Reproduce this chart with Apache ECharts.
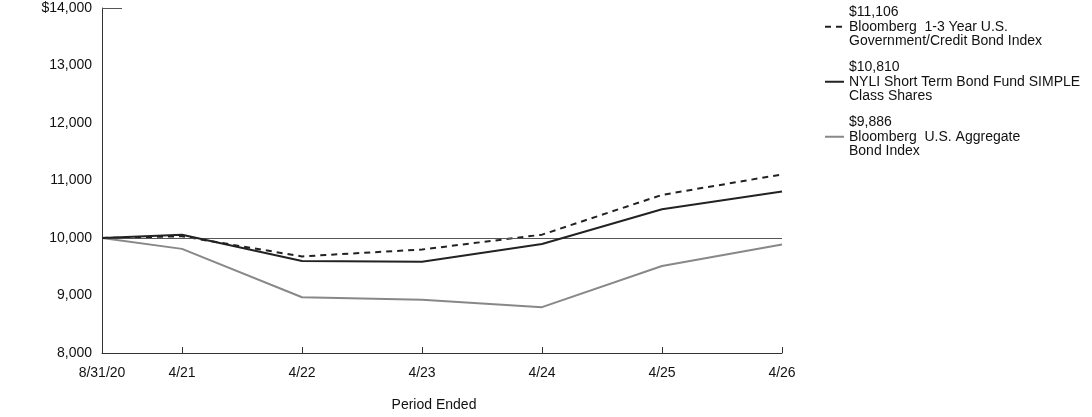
<!DOCTYPE html>
<html>
<head>
<meta charset="utf-8">
<script src="https://cdn.jsdelivr.net/npm/echarts@6/dist/echarts.min.js"></script>
<style>
  html, body { margin: 0; padding: 0; background: #fff; }
  #chart { width: 1092px; height: 417px; }
</style>
</head>
<body>
<div id="chart"></div>
<script>
const periods = ["8/31/20", "4/21", "4/22", "4/23", "4/24", "4/25", "4/26"];
const monthsFromStart = [0, 8, 20, 32, 44, 56, 68];
const yTicks = [8000, 9000, 10000, 11000, 12000, 13000, 14000];

const shortGovCredit = [10000, 10030, 9680, 9800, 10058, 10750, 11106];
const fundSimple = [10000, 10058, 9599, 9588, 9897, 10499, 10810];
const aggregate = [10000, 9811, 8969, 8926, 8797, 9513, 9886];

const names = [
	"Bloomberg  1-3 Year U.S. Government/Credit Bond Index",
	"NYLI Short Term Bond Fund SIMPLE Class Shares",
	"Bloomberg  U.S. Aggregate Bond Index"
];
const legendText = {
	[names[0]]: "$11,106\nBloomberg  1-3 Year U.S.\nGovernment/Credit Bond Index",
	[names[1]]: "$10,810\nNYLI Short Term Bond Fund SIMPLE\nClass Shares",
	[names[2]]: "$9,886\nBloomberg  U.S. Aggregate\nBond Index"
};

// one category per month, labels only where a period ends
const months = [];
for (let m = 0; m <= monthsFromStart[monthsFromStart.length - 1]; m++) {
	const idx = monthsFromStart.indexOf(m);
	months.push(idx >= 0 ? periods[idx] : "");
}
const isPeriod = (i) => monthsFromStart.indexOf(i) >= 0;
const toPoints = (vals) => vals.map((v, i) => [monthsFromStart[i], v]);

const font = "Arial, 'Liberation Sans', sans-serif";
const chart = echarts.init(document.getElementById("chart"));

const option = {
	animation: false,
	textStyle: { fontFamily: font },
	grid: { left: 102, right: 310, top: 8, bottom: 60 },
	legend: {
		orient: "vertical",
		left: 824,
		top: 5,
		padding: 0,
		itemWidth: 19,
		itemHeight: 10,
		itemGap: 11.5,
		data: names,
		formatter: (n) => legendText[n],
		itemStyle: { color: "rgba(0,0,0,0)", borderWidth: 0, opacity: 0 },
		textStyle: { fontFamily: font, fontSize: 14, color: "#111", lineHeight: 14.5 }
	},
	xAxis: {
		type: "category",
		boundaryGap: false,
		data: months,
		name: "Period Ended",
		nameLocation: "middle",
		nameGap: 45,
		nameTextStyle: { fontFamily: font, fontSize: 14, color: "#111", padding: [0, 16, 0, 0] },
		axisLine: { lineStyle: { color: "#333", width: 1 } },
		axisTick: { inside: true, length: 6, interval: isPeriod, lineStyle: { color: "#333" } },
		axisLabel: { interval: isPeriod, margin: 13, fontSize: 14, color: "#111", fontFamily: font },
		splitLine: { show: false }
	},
	yAxis: {
		type: "value",
		min: yTicks[0],
		max: yTicks[yTicks.length - 1],
		interval: 1000,
		axisLine: { show: true, lineStyle: { color: "#333", width: 1 } },
		axisTick: { show: false },
		axisLabel: {
			margin: 10,
			fontSize: 14,
			color: "#111",
			fontFamily: font,
			formatter: (v) => (v === 14000 ? "$" : "") + v.toLocaleString("en-US")
		},
		splitLine: { show: false }
	},
	series: [
		{
			name: names[0],
			type: "line",
			symbol: "none",
			data: toPoints(shortGovCredit),
			lineStyle: { color: "#222", width: 2, type: [6, 5] },
			itemStyle: { color: "#222" },
			z: 4
		},
		{
			name: names[1],
			type: "line",
			symbol: "none",
			data: toPoints(fundSimple),
			lineStyle: { color: "#222", width: 2 },
			itemStyle: { color: "#222" },
			z: 5
		},
		{
			name: names[2],
			type: "line",
			symbol: "none",
			data: toPoints(aggregate),
			lineStyle: { color: "#888", width: 2 },
			itemStyle: { color: "#888" },
			z: 3,
			markLine: {
				silent: true,
				symbol: "none",
				label: { show: false },
				lineStyle: { color: "#555", width: 1, type: "solid" },
				data: [
					{ yAxis: 10000 },
					[{ coord: [0, 14000] }, { coord: [2, 14000] }]
				]
			}
		}
	]
};

chart.setOption(option);
window.onresize = chart.resize;
</script>
</body>
</html>
